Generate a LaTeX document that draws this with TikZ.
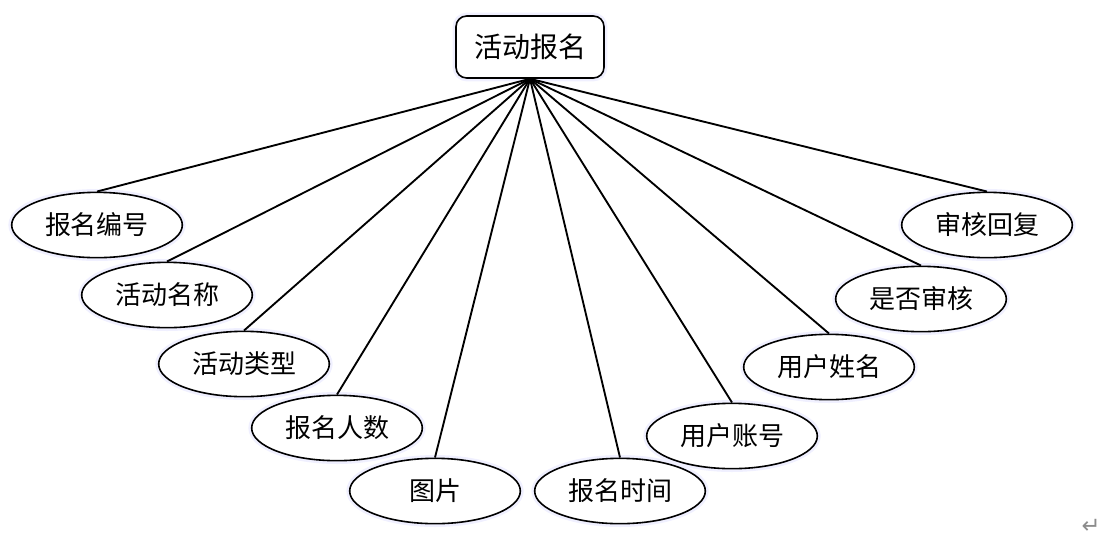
\documentclass[tikz,border=0pt]{standalone}
\usepackage{fontspec}
\setmainfont{Noto Sans CJK SC}
\newfontfamily\symfont{DejaVu Sans}
\usetikzlibrary{shapes.geometric}

\begin{document}
\begin{tikzpicture}[
    x=0.75pt, y=-0.75pt,
    glow/.style={preaction={draw=blue!6, line width=5pt}},
    box/.style={rectangle, rounded corners=8pt, draw=black, fill=white, line width=1.2pt, glow, minimum width=111pt, minimum height=46.5pt, inner sep=0pt, font=\fontsize{21}{24}\selectfont},
    attr/.style={ellipse, draw=black, fill=white, line width=1.2pt, glow, minimum width=128pt, minimum height=49pt, inner sep=0pt, font=\fontsize{19.5}{22}\selectfont},
    link/.style={line width=1.4pt, black}
]
\useasboundingbox (0,0) rectangle (1107,540);

% 实体
\node[box] (enroll) at (530,47) {活动报名};

% 属性（左侧）
\node[attr] (eid)   at (97,225)  {报名编号};
\node[attr] (aname) at (167,295) {活动名称};
\node[attr] (atype) at (244,364) {活动类型};
\node[attr] (pnum)  at (337,428) {报名人数};
\node[attr] (pic)   at (435,491) {图片};

% 属性（右侧）
\node[attr] (etime) at (620,491) {报名时间};
\node[attr] (uacc)  at (732,436) {用户账号};
\node[attr] (uname) at (829,367) {用户姓名};
\node[attr] (audit) at (921,299) {是否审核};
\node[attr] (reply) at (987,225) {审核回复};

% 连线
\foreach \a in {eid, aname, atype, pnum, pic, etime, uacc, uname, audit, reply} {
    \draw[link] (enroll.south) -- (\a.north);
}

% 段落标记
\node[text=black!45, font=\symfont\fontsize{17}{18}\selectfont] (mark) at (1091,526) {↵};

\end{tikzpicture}
\end{document}
